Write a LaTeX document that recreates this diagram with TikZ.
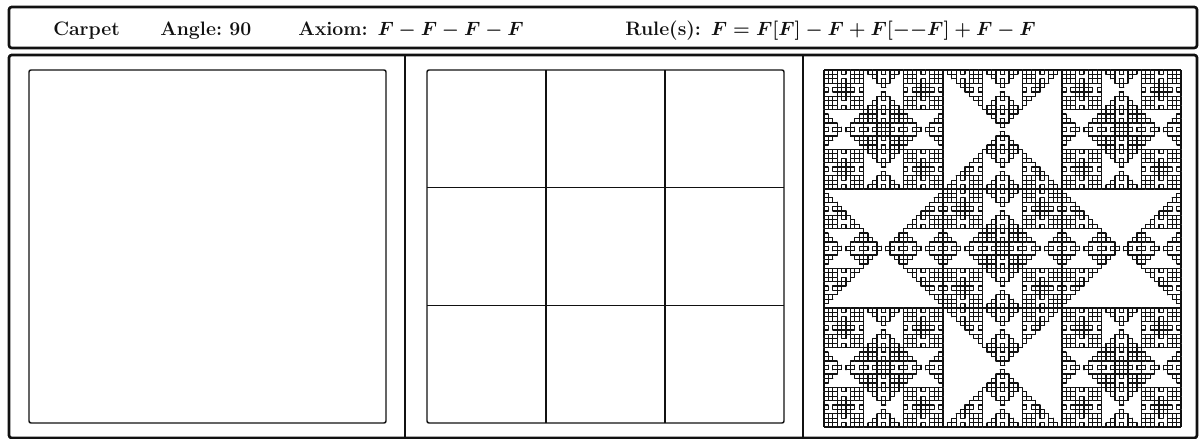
\documentclass[tikz,border=0pt]{standalone}
\usepackage{amsmath}
\usepackage{tikz}
\usetikzlibrary{lindenmayersystems}
\definecolor{murekkep}{HTML}{111111}

\pgfdeclarelindenmayersystem{hali}{
  \rule{F -> F[F]-F+F[--F]+F-F}
}

\begin{document}
\begin{tikzpicture}[x=0.75pt,y=0.75pt,line join=round,
  cerceve/.style={murekkep,line width=2pt,rounded corners=2pt},
  kutu/.style={murekkep,line width=1.1pt,rounded corners=1.5pt},
  izgara/.style={murekkep,line width=1.1pt},
  fraktal/.style={murekkep,line width=0.95pt,
    l-system={hali,axiom=F,order=4,angle=90,step=3.30556pt}},
  yazi/.style={anchor=base west,text=murekkep,inner sep=0pt,
    font=\fontsize{14.6}{17}\selectfont\bfseries\boldmath}]
\useasboundingbox (0,0) rectangle (1200,439);
% baslik
\draw[cerceve] (9,391) rectangle (1197,432);
\node[yazi] (ad) at (53,403) {Carpet};
\node[yazi] (aci) at (160,403) {Angle:\ 90};
\node[yazi] (aksiyom) at (298,403) {Axiom: $F-F-F-F$};
\node[yazi] (kural) at (625,403) {Rule(s): $F=F[F]-F+F[{-}{-}F]+F-F$};
% paneller
\draw[cerceve] (9,1) rectangle (1197,384);
\draw[murekkep,line width=2pt] (405,1) -- (405,384);
\draw[murekkep,line width=2pt] (803,1) -- (803,384);
% adim 0
\draw[kutu] (29,16) rectangle (386,369);
% adim 1
\draw[kutu] (427,16) rectangle (784,369);
\foreach \i in {1,2} {
  \draw[izgara] ({427+119*\i},16) -- ({427+119*\i},369);
  \draw[izgara] (427,{16+117.67*\i}) -- (784,{16+117.67*\i});
}
% adim 4
\coordinate (sol ust) at (824,369);
\coordinate (sag ust) at (1181,369);
\coordinate (sag alt) at (1181,12);
\coordinate (sol alt) at (824,12);
\foreach \kose/\yon in {sol ust/0,sag ust/-90,sag alt/180,sol alt/90}
  \draw[fraktal,shift={(\kose)},rotate=\yon] (0,0) lindenmayer system;
\end{tikzpicture}
\end{document}
